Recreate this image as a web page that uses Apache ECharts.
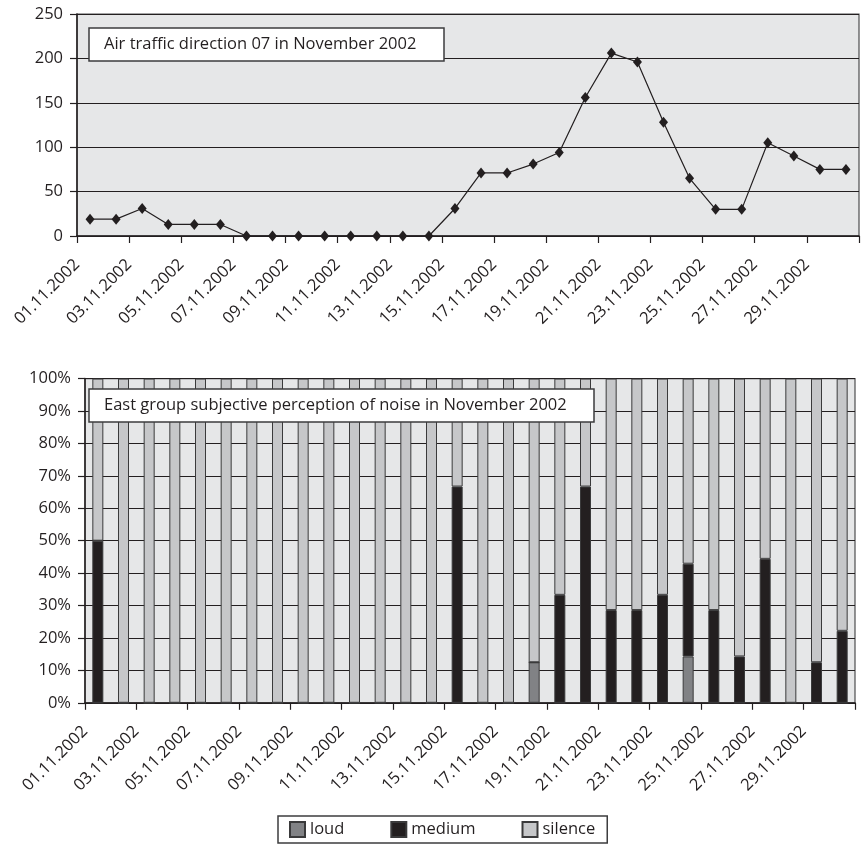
<!DOCTYPE html>
<html>
<head>
<meta charset="utf-8">
<script src="https://cdn.jsdelivr.net/npm/echarts@6/dist/echarts.min.js"></script>
<style>
  html, body { margin: 0; padding: 0; background: #ffffff; }
  #chart { width: 863px; height: 848px; }
</style>
</head>
<body>
<div id="chart"></div>
<script>
// Days of November 2002 (one category per day)
const days = [
  '01.11.2002', '02.11.2002', '03.11.2002', '04.11.2002', '05.11.2002',
  '06.11.2002', '07.11.2002', '08.11.2002', '09.11.2002', '10.11.2002',
  '11.11.2002', '12.11.2002', '13.11.2002', '14.11.2002', '15.11.2002',
  '16.11.2002', '17.11.2002', '18.11.2002', '19.11.2002', '20.11.2002',
  '21.11.2002', '22.11.2002', '23.11.2002', '24.11.2002', '25.11.2002',
  '26.11.2002', '27.11.2002', '28.11.2002', '29.11.2002', '30.11.2002'
];

const trafficTitle = 'Air traffic direction 07 in November 2002';
const noiseTitle = 'East group subjective perception of noise in November 2002';

// Daily movements on runway direction 07
const traffic = [
  19, 19, 31, 13, 13, 13, 0, 0, 0, 0,
  0, 0, 0, 0, 31, 71, 71, 81, 94, 156,
  206, 196, 128, 65, 30, 30, 105, 90, 75, 75
];

// Share of answers per day (%)
const loud = [
  0, 0, 0, 0, 0, 0, 0, 0, 0, 0,
  0, 0, 0, 0, 0, 0, 0, 12.5, 0, 0,
  0, 0, 0, 14.3, 0, 0, 0, 0, 0, 0
];
const medium = [
  50, 0, 0, 0, 0, 0, 0, 0, 0, 0,
  0, 0, 0, 0, 66.7, 0, 0, 0, 33.3, 66.7,
  28.6, 28.6, 33.3, 28.6, 28.6, 14.3, 44.4, 0, 12.5, 22.2
];
const silence = [
  50, 100, 100, 100, 100, 100, 100, 100, 100, 100,
  100, 100, 100, 100, 33.3, 100, 100, 87.5, 66.7, 33.3,
  71.4, 71.4, 66.7, 57.1, 71.4, 85.7, 55.6, 100, 87.5, 77.8
];

const seriesNames = ['loud', 'medium', 'silence'];

const INK = '#231f20';
const FONT = 'Open Sans';
const FONT_SIZE = 16.5;
const PLOT_BG = '#e6e7e8';
const BAR_EDGE = '#3a3a3b';

// Tick labels sit on the day boundaries, every second day
const dayLabel = v => (v < days.length ? days[v] : '');

const dayAxis = (gridIndex) => ({
  gridIndex,
  type: 'value',
  position: 'bottom',
  min: 0,
  max: days.length,
  interval: 2,
  axisLine: { show: true, onZero: false, lineStyle: { color: INK, width: 1.5 } },
  axisTick: { show: true, length: 7, lineStyle: { color: INK, width: 1.2 } },
  splitLine: { show: false },
  axisLabel: {
    rotate: 45, margin: 26, fontSize: FONT_SIZE, color: INK, fontFamily: FONT,
    formatter: dayLabel
  }
});

const boxTitle = (text, top) => ({
  text,
  left: 89,
  top,
  padding: [8, 28, 8, 15],
  backgroundColor: '#ffffff',
  borderColor: '#3d3d3e',
  borderWidth: 1.5,
  textStyle: { fontSize: FONT_SIZE, fontWeight: 'normal', color: INK, fontFamily: FONT }
});

const colors = { loud: '#818285', medium: INK, silence: '#c6c7c9' };

const chart = echarts.init(document.getElementById('chart'), null, { renderer: 'canvas' });

chart.setOption({
  animation: false,
  textStyle: { fontFamily: FONT, color: INK },
  title: [boxTitle(trafficTitle, 28), boxTitle(noiseTitle, 389)],
  legend: {
    data: seriesNames,
    left: 278,
    top: 816,
    padding: [5, 12, 5, 11],
    itemWidth: 15,
    itemHeight: 15,
    itemGap: 46,
    icon: 'rect',
    backgroundColor: '#ffffff',
    borderColor: '#3d3d3e',
    borderWidth: 1.5,
    textStyle: { fontSize: FONT_SIZE, color: INK, fontFamily: FONT }
  },
  grid: [
    {
      left: 77, top: 14, width: 782, height: 222,
      show: true, backgroundColor: PLOT_BG, borderColor: '#4d4d4f', borderWidth: 1.2
    },
    {
      left: 85, top: 378.6, width: 770, height: 324.2,
      show: true, backgroundColor: PLOT_BG, borderColor: '#4d4d4f', borderWidth: 1.2
    }
  ],
  xAxis: [
    dayAxis(0),
    { gridIndex: 1, type: 'category', data: days, show: false, boundaryGap: true },
    dayAxis(1)
  ],
  yAxis: [
    {
      gridIndex: 0, type: 'value', min: 0, max: 250, interval: 50,
      axisLine: { show: true, lineStyle: { color: INK, width: 1.5 } },
      axisTick: { show: true, length: 7, lineStyle: { color: INK, width: 1.2 } },
      splitLine: { show: true, lineStyle: { color: INK, width: 1.2 } },
      axisLabel: { margin: 14, fontSize: FONT_SIZE, color: INK, fontFamily: FONT }
    },
    {
      gridIndex: 1, type: 'value', min: 0, max: 100, interval: 10,
      axisLine: { show: true, lineStyle: { color: INK, width: 1.5 } },
      axisTick: { show: true, length: 7, lineStyle: { color: INK, width: 1.2 } },
      splitLine: { show: true, lineStyle: { color: INK, width: 1.2 } },
      axisLabel: { margin: 14, fontSize: FONT_SIZE, color: INK, fontFamily: FONT, formatter: '{value}%' }
    }
  ],
  series: [
    {
      name: 'traffic',
      type: 'line',
      xAxisIndex: 0,
      yAxisIndex: 0,
      data: traffic.map((v, i) => [i + 0.5, v]),
      symbol: 'diamond',
      symbolSize: [9, 11],
      itemStyle: { color: INK },
      lineStyle: { color: INK, width: 1.2 },
      z: 5
    },
    ...[loud, medium, silence].map((values, k) => ({
      name: seriesNames[k],
      type: 'bar',
      xAxisIndex: 1,
      yAxisIndex: 1,
      stack: 'noise',
      barWidth: 11,
      data: values,
      itemStyle: { color: colors[seriesNames[k]], borderColor: BAR_EDGE, borderWidth: 1 }
    }))
  ]
});
</script>
</body>
</html>
